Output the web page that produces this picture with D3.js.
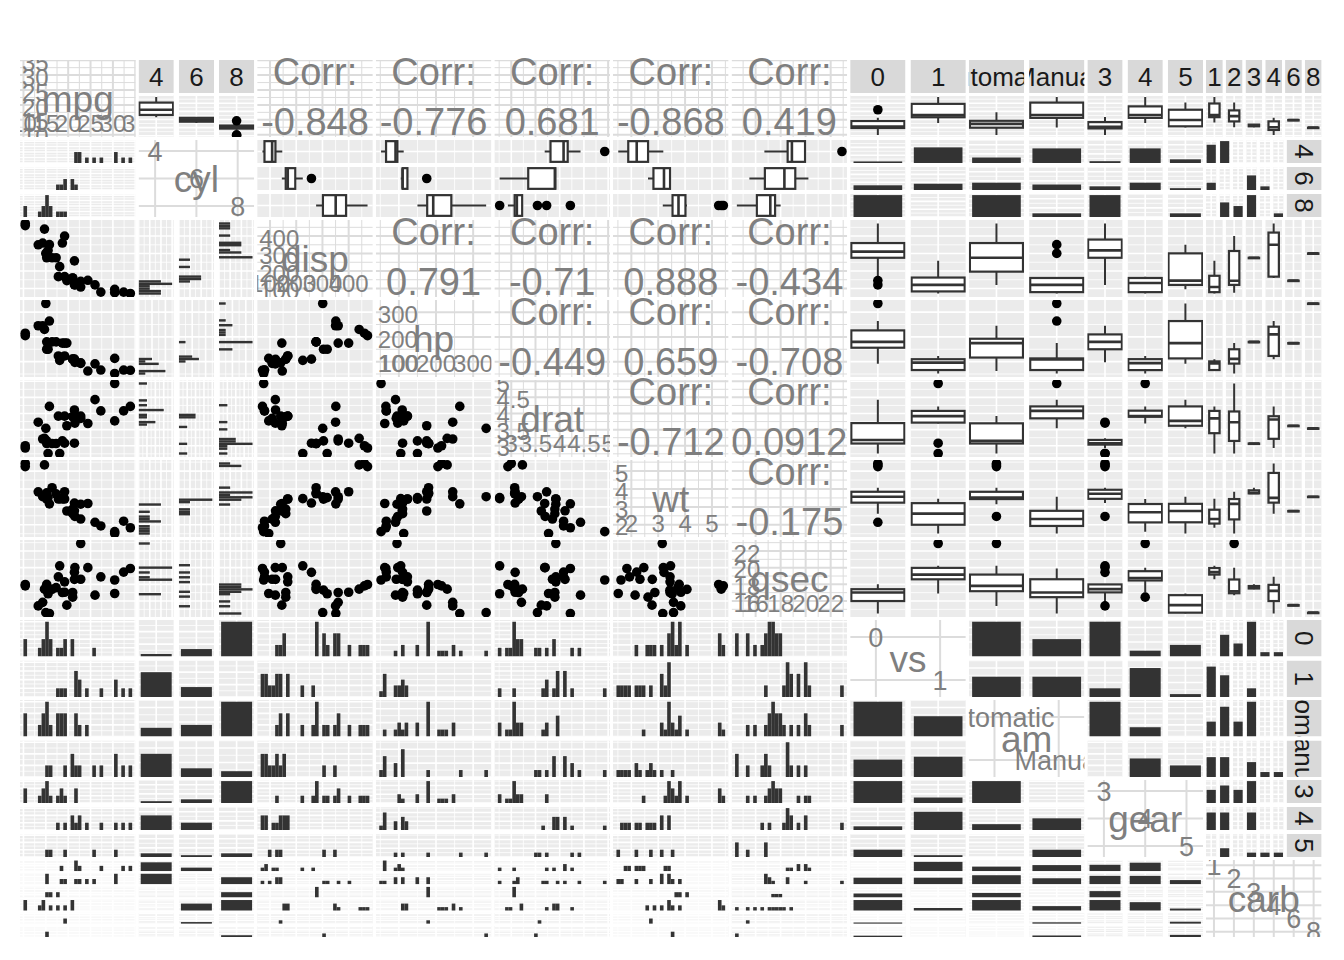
<!DOCTYPE html>
<html><head><meta charset="utf-8">
<script src="https://cdn.jsdelivr.net/npm/d3@7"></script>
<style>body{margin:0;background:#fff;} text{font-family:"Liberation Sans",Arial,Helvetica,sans-serif;}</style>
</head><body><svg id="c" width="1344" height="960"></svg>
<script>
// mtcars data
const mpg=[21,21,22.8,21.4,18.7,18.1,14.3,24.4,22.8,19.2,17.8,16.4,17.3,15.2,10.4,10.4,14.7,32.4,30.4,33.9,21.5,15.5,15.2,13.3,19.2,27.3,26,30.4,15.8,19.7,15,21.4];
const cyl=[6,6,4,6,8,6,8,4,4,6,6,8,8,8,8,8,8,4,4,4,4,8,8,8,8,4,4,4,8,6,8,4];
const disp=[160,160,108,258,360,225,360,146.7,140.8,167.6,167.6,275.8,275.8,275.8,472,460,440,78.7,75.7,71.1,120.1,318,304,350,400,79,120.3,95.1,351,145,301,121];
const hp=[110,110,93,110,175,105,245,62,95,123,123,180,180,180,205,215,230,66,52,65,97,150,150,245,175,66,91,113,264,175,335,109];
const drat=[3.9,3.9,3.85,3.08,3.15,2.76,3.21,3.69,3.92,3.92,3.92,3.07,3.07,3.07,2.93,3,3.23,4.08,4.93,4.22,3.7,2.76,3.15,3.73,3.08,4.08,4.43,3.77,4.22,3.62,3.54,4.11];
const wt=[2.62,2.875,2.32,3.215,3.44,3.46,3.57,3.19,3.15,3.44,3.44,4.07,3.73,3.78,5.25,5.424,5.345,2.2,1.615,1.835,2.465,3.52,3.435,3.84,3.845,1.935,2.14,1.513,3.17,2.77,3.57,2.78];
const qsec=[16.46,17.02,18.61,19.44,17.02,20.22,15.84,20,22.9,18.3,18.9,17.4,17.6,18,17.98,17.82,17.42,19.47,18.52,19.9,20.01,16.87,17.3,15.41,17.05,18.9,16.7,16.9,14.5,15.5,14.6,18.6];
const vs=[0,0,1,1,0,1,0,1,1,1,1,0,0,0,0,0,0,1,1,1,1,0,0,0,0,1,0,1,0,0,0,1];
const am=[1,1,1,0,0,0,0,0,0,0,0,0,0,0,0,0,0,1,1,1,0,0,0,0,0,1,1,1,1,1,1,1];
const gear=[4,4,4,3,3,3,3,4,4,4,4,3,3,3,3,3,3,4,4,4,3,3,3,3,3,4,5,5,5,5,5,4];
const carb=[4,4,1,1,2,1,4,2,2,4,4,3,3,3,4,4,4,1,2,1,1,2,2,4,2,1,2,2,4,6,8,2];

const vars=['mpg','cyl','disp','hp','drat','wt','qsec','vs','am','gear','carb'];
const cylLevels=[4,6,8], vsLevels=[0,1], amCodes=[0,1], amLabels=['Automatic','Manual'];
const gearLevels=[3,4,5], carbLevels=[1,2,3,4,6,8];

const data={mpg,cyl,disp,hp,drat,wt,qsec,vs,am,gear,carb};
const disc={
  cyl:{codes:cylLevels,labels:cylLevels.map(String)},
  vs:{codes:vsLevels,labels:vsLevels.map(String)},
  am:{codes:amCodes,labels:amLabels},
  gear:{codes:gearLevels,labels:gearLevels.map(String)},
  carb:{codes:carbLevels,labels:carbLevels.map(String)}
};
const N=mpg.length;

const GX=20, GY=60, STEPX=118.6, STEPY=80, CW=115.6, CH=77;
const TS=33, TG=2, RS=35, RG=3;
const PANEL='#ebebeb', STRIP='#d9d9d9', DARK='#333333', GREY='#7f7f7f';
const WHITE_ST={c:'#ffffff',maj:1.6,min:0.8};
const LIGHT_ST={c:'#dcdcdc',maj:2,min:1};

const svg=d3.select('#c');
const defs=svg.append('defs');
const base=svg.append('g');
const over=svg.append('g');
let cid=0;
function clipRect(x,y,w,h){const id='cp'+(cid++);defs.append('clipPath').attr('id',id).append('rect').attr('x',x).attr('y',y).attr('width',w).attr('height',h);return `url(#${id})`;}
function panel(parent,b,bg){
  const g=parent.append('g').attr('clip-path',clipRect(b.x,b.y,b.w,b.h));
  g.append('rect').attr('x',b.x).attr('y',b.y).attr('width',b.w).attr('height',b.h).attr('fill',bg);
  return g;
}
function contScale(v,range){const e=d3.extent(data[v]);const r=e[1]-e[0];return d3.scaleLinear().domain([e[0]-0.05*r,e[1]+0.05*r]).range(range);}
function breaks(scale,n){
  const maj=scale.ticks(n);const d=scale.domain();const lo=d3.min(d),hi=d3.max(d);
  const st=maj.length>1?maj[1]-maj[0]:(hi-lo)/2;const mn=[];
  const start=(maj.length?maj[0]:lo)-st/2;
  for(let k=0;k<200;k++){const v=start+k*st;if(v>hi)break;if(v>=lo)mn.push(v);}
  return {maj,mn};
}
function lines(g,vals,dir,pos,b,color,sw){
  g.selectAll(null).data(vals).join('line')
   .attr('x1',d=>dir==='v'?pos(d):b.x).attr('x2',d=>dir==='v'?pos(d):b.x+b.w)
   .attr('y1',d=>dir==='v'?b.y:pos(d)).attr('y2',d=>dir==='v'?b.y+b.h:pos(d))
   .attr('stroke',color).attr('stroke-width',sw);
}
function grid(g,b,xa,ya,st){
  const parts=[];
  [[xa,'v'],[ya,'h']].forEach(([a,dir])=>{
    if(!a) return;
    if(a.type==='cont'){const br=breaks(a.scale,a.n);parts.push([br.mn,dir,a.scale,st.min]);parts.push([br.maj,dir,a.scale,st.maj]);}
    else if(a.type==='center'){const c=dir==='v'?b.x+b.w/2:b.y+b.h/2;parts.push([[0],dir,()=>c,st.maj]);}
    else if(a.type==='points'){parts.push([a.vals,dir,a.scale,st.maj]);}
  });
  parts.sort((p,q)=>p[3]-q[3]).forEach(p=>lines(g,p[0],p[1],p[2],b,st.c,p[3]));
}
function fmtNum(t){return String(+t.toFixed(6));}
function boxStats(vals){
  const s=vals.slice().sort(d3.ascending);
  const q1=d3.quantile(s,.25),med=d3.quantile(s,.5),q3=d3.quantile(s,.75),iqr=q3-q1;
  const lo=d3.min(s.filter(v=>v>=q1-1.5*iqr)),hi=d3.max(s.filter(v=>v<=q3+1.5*iqr));
  return {q1,med,q3,lo,hi,out:s.filter(v=>v<lo||v>hi)};
}
const NB=30;
function binInfo(v){const e=d3.extent(data[v]);const bw=(e[1]-e[0])/(NB-1);return {start:e[0]-bw/2,bw};}
function histCounts(vals,bi){const c=new Array(NB).fill(0);vals.forEach(x=>{let k=Math.floor((x-bi.start)/bi.bw+1e-9);k=Math.max(0,Math.min(NB-1,k));c[k]++;});return c;}
function idxWhere(v,code){return d3.range(N).filter(k=>data[v][k]===code);}

function facetLayout(ax,ay,aw,ah,nc,nr){
  const gc=nc>=6?3:5, gr=nr>=6?2:4;
  const pw=(aw-(nc-1)*gc)/nc, ph=(ah-(nr-1)*gr)/nr;
  return (c,r)=>({x:ax+c*(pw+gc),y:ay+r*(ph+gr),w:pw,h:ph});
}

function diagCont(v,b){
  const g=panel(base,b,'#ffffff');
  const xs=contScale(v,[b.x,b.x+b.w]), ys=contScale(v,[b.y+b.h,b.y]);
  grid(g,b,{type:'cont',scale:xs,n:4},{type:'cont',scale:ys,n:4},LIGHT_ST);
  const tk=xs.ticks(4);
  tk.forEach(t=>g.append('text').attr('x',b.x+2).attr('y',ys(t)+2).attr('dy','0.36em').attr('text-anchor','start').attr('font-size',24).attr('fill',GREY).text(fmtNum(t)));
  tk.forEach(t=>g.append('text').attr('x',xs(t)).attr('y',b.y+b.h-5).attr('text-anchor','middle').attr('font-size',24).attr('fill',GREY).text(fmtNum(t)));
  g.append('text').attr('x',b.x+b.w/2).attr('y',b.y+b.h/2).attr('dy','0.36em').attr('text-anchor','middle').attr('font-size',37).attr('fill',GREY).text(v);
}
function diagDisc(v,b){
  const g=panel(base,b,'#ffffff');
  const labs=disc[v].labels;
  const px=d3.scalePoint().domain(labs).range([b.x,b.x+b.w]).padding(0.4);
  const py=d3.scalePoint().domain(labs).range([b.y,b.y+b.h]).padding(0.4);
  grid(g,b,{type:'points',scale:px,vals:labs},{type:'points',scale:py,vals:labs},LIGHT_ST);
  labs.forEach(l=>g.append('text').attr('x',px(l)).attr('y',py(l)).attr('dy','0.36em').attr('text-anchor','middle').attr('font-size',27).attr('fill',GREY).text(l));
  g.append('text').attr('x',b.x+b.w/2).attr('y',b.y+b.h/2).attr('dy','0.36em').attr('text-anchor','middle').attr('font-size',37).attr('fill',GREY).text(v);
}
function pearson(a,c){const ma=d3.mean(a),mc=d3.mean(c);let sab=0,saa=0,scc=0;for(let k=0;k<a.length;k++){const da=a[k]-ma,dc=c[k]-mc;sab+=da*dc;saa+=da*da;scc+=dc*dc;}return sab/Math.sqrt(saa*scc);}
function corrCell(rv,cv,b){
  const g=panel(base,b,'#ffffff');
  grid(g,b,{type:'cont',scale:contScale(cv,[b.x,b.x+b.w]),n:4},{type:'cont',scale:contScale(rv,[b.y+b.h,b.y]),n:4},LIGHT_ST);
  const r=pearson(data[rv],data[cv]);
  const txt=d3.format('.3~g')(r).replace('\u2212','-');
  over.append('text').attr('x',b.x+b.w/2).attr('y',b.y+25).attr('text-anchor','middle').attr('font-size',38).attr('fill',GREY).text('Corr:');
  over.append('text').attr('x',b.x+b.w/2).attr('y',b.y+75).attr('text-anchor','middle').attr('font-size',38).attr('fill',GREY).text(txt);
}
function scatterCell(rv,cv,b){
  const g=panel(base,b,PANEL);
  const xs=contScale(cv,[b.x,b.x+b.w]), ys=contScale(rv,[b.y+b.h,b.y]);
  grid(g,b,{type:'cont',scale:xs,n:4},{type:'cont',scale:ys,n:4},WHITE_ST);
  g.selectAll(null).data(d3.range(N)).join('circle').attr('cx',k=>xs(data[cv][k])).attr('cy',k=>ys(data[rv][k])).attr('r',4.8).attr('fill','#000');
}

function cell(i,j){
  const rv=vars[i], cv=vars[j];
  const b={x:GX+j*STEPX,y:GY+i*STEPY,w:CW,h:CH};
  const rd=!!disc[rv], cd=!!disc[cv];
  if(i===j){rd?diagDisc(rv,b):diagCont(rv,b);return;}
  if(!rd&&!cd){i<j?corrCell(rv,cv,b):scatterCell(rv,cv,b);return;}
  const nc=cd?disc[cv].codes.length:1, nr=rd?disc[rv].codes.length:1;
  let ax=b.x,ay=b.y,aw=b.w,ah=b.h;
  const topStrip=(i===0&&cd), rightStrip=(j===vars.length-1&&rd);
  if(topStrip){ay=b.y+TS+TG;ah=b.h-TS-TG;}
  if(rightStrip){aw=b.w-RS-RG;}
  const L=facetLayout(ax,ay,aw,ah,nc,nr);
  if(topStrip){
    disc[cv].labels.forEach((lab,c)=>{const p=L(c,0);const sb={x:p.x,y:b.y,w:p.w,h:TS};
      const g=panel(base,sb,STRIP);
      g.append('text').attr('x',sb.x+sb.w/2).attr('y',sb.y+sb.h/2).attr('dy','0.36em').attr('text-anchor','middle').attr('font-size',26).attr('fill','#1a1a1a').text(lab);});
  }
  if(rightStrip){
    disc[rv].labels.forEach((lab,r)=>{const p=L(0,r);const sb={x:b.x+b.w-RS,y:p.y,w:RS,h:p.h};
      const g=panel(base,sb,STRIP);
      g.append('text').attr('transform',`translate(${sb.x+sb.w/2},${sb.y+sb.h/2}) rotate(90)`).attr('dy','0.36em').attr('text-anchor','middle').attr('font-size',26).attr('fill','#1a1a1a').text(lab);});
  }
  if(rd&&cd){
    const cnt=disc[rv].codes.map(rc=>disc[cv].codes.map(cc=>d3.range(N).filter(k=>data[rv][k]===rc&&data[cv][k]===cc).length));
    const mx=d3.max(cnt.flat());
    disc[rv].codes.forEach((rc,r)=>disc[cv].codes.forEach((cc,c)=>{
      const p=L(c,r);const g=panel(base,p,PANEL);
      const cs=d3.scaleLinear().domain([0,mx*1.05]).range([p.y+p.h,p.y]);
      grid(g,p,{type:'center'},{type:'cont',scale:cs,n:3},WHITE_ST);
      const n=cnt[r][c];
      if(n>0){const bw=p.w*0.88;g.append('rect').attr('x',p.x+(p.w-bw)/2).attr('width',bw).attr('y',cs(n)).attr('height',p.y+p.h-cs(n)).attr('fill',DARK);}
    }));
    return;
  }
  if(i<j){
    if(!rd&&cd){
      disc[cv].codes.forEach((cc,c)=>{
        const p=L(c,0);const g=panel(base,p,PANEL);
        const ys=contScale(rv,[p.y+p.h,p.y]);
        grid(g,p,{type:'center'},{type:'cont',scale:ys,n:4},WHITE_ST);
        const vals=idxWhere(cv,cc).map(k=>data[rv][k]);
        if(!vals.length) return;
        const s=boxStats(vals);const bw=p.w>25?p.w*0.96:p.w*0.62;const cx=p.x+p.w/2;
        g.append('line').attr('x1',cx).attr('x2',cx).attr('y1',ys(s.lo)).attr('y2',ys(s.hi)).attr('stroke',DARK).attr('stroke-width',2);
        g.append('rect').attr('x',cx-bw/2).attr('width',bw).attr('y',ys(s.q3)).attr('height',Math.max(0.5,ys(s.q1)-ys(s.q3))).attr('fill','#fff').attr('stroke',DARK).attr('stroke-width',2.2);
        g.append('line').attr('x1',cx-bw/2).attr('x2',cx+bw/2).attr('y1',ys(s.med)).attr('y2',ys(s.med)).attr('stroke',DARK).attr('stroke-width',2.6);
        s.out.forEach(o=>g.append('circle').attr('cx',cx).attr('cy',ys(o)).attr('r',4.8).attr('fill','#000'));
      });
    } else {
      disc[rv].codes.forEach((rc,r)=>{
        const p=L(0,r);const g=panel(base,p,PANEL);
        const xs=contScale(cv,[p.x,p.x+p.w]);
        grid(g,p,{type:'cont',scale:xs,n:4},{type:'center'},WHITE_ST);
        const vals=idxWhere(rv,rc).map(k=>data[cv][k]);
        const s=boxStats(vals);const bh=p.h*0.9;const cy=p.y+p.h/2;
        g.append('line').attr('y1',cy).attr('y2',cy).attr('x1',xs(s.lo)).attr('x2',xs(s.hi)).attr('stroke',DARK).attr('stroke-width',2);
        g.append('rect').attr('y',cy-bh/2).attr('height',bh).attr('x',xs(s.q1)).attr('width',Math.max(0.5,xs(s.q3)-xs(s.q1))).attr('fill','#fff').attr('stroke',DARK).attr('stroke-width',2.2);
        g.append('line').attr('y1',cy-bh/2).attr('y2',cy+bh/2).attr('x1',xs(s.med)).attr('x2',xs(s.med)).attr('stroke',DARK).attr('stroke-width',2.6);
        s.out.forEach(o=>g.append('circle').attr('cy',cy).attr('cx',xs(o)).attr('r',4.8).attr('fill','#000'));
      });
    }
    return;
  }
  if(!rd&&cd){
    const bi=binInfo(rv);
    const counts=disc[cv].codes.map(cc=>histCounts(idxWhere(cv,cc).map(k=>data[rv][k]),bi));
    const mx=d3.max(counts.flat());
    disc[cv].codes.forEach((cc,c)=>{
      const p=L(c,0);const g=panel(base,p,PANEL);
      const ys=contScale(rv,[p.y+p.h,p.y]);
      const cs=d3.scaleLinear().domain([0,mx*1.05]).range([p.x,p.x+p.w]);
      grid(g,p,{type:'cont',scale:cs,n:3},{type:'cont',scale:ys,n:4},WHITE_ST);
      counts[c].forEach((n,k)=>{if(!n)return;const lo=bi.start+k*bi.bw,hi=lo+bi.bw;
        g.append('rect').attr('x',p.x).attr('width',cs(n)-p.x).attr('y',ys(hi)).attr('height',ys(lo)-ys(hi)).attr('fill',DARK);});
    });
  } else {
    const bi=binInfo(cv);
    const counts=disc[rv].codes.map(rc=>histCounts(idxWhere(rv,rc).map(k=>data[cv][k]),bi));
    const mx=d3.max(counts.flat());
    disc[rv].codes.forEach((rc,r)=>{
      const p=L(0,r);const g=panel(base,p,PANEL);
      const xs=contScale(cv,[p.x,p.x+p.w]);
      const cs=d3.scaleLinear().domain([0,mx*1.05]).range([p.y+p.h,p.y]);
      grid(g,p,{type:'cont',scale:xs,n:4},{type:'cont',scale:cs,n:3},WHITE_ST);
      counts[r].forEach((n,k)=>{if(!n)return;const lo=bi.start+k*bi.bw,hi=lo+bi.bw;
        g.append('rect').attr('x',xs(lo)).attr('width',xs(hi)-xs(lo)).attr('y',cs(n)).attr('height',p.y+p.h-cs(n)).attr('fill',DARK);});
    });
  }
}
for(let i=0;i<vars.length;i++)for(let j=0;j<vars.length;j++)cell(i,j);
</script></body></html>
